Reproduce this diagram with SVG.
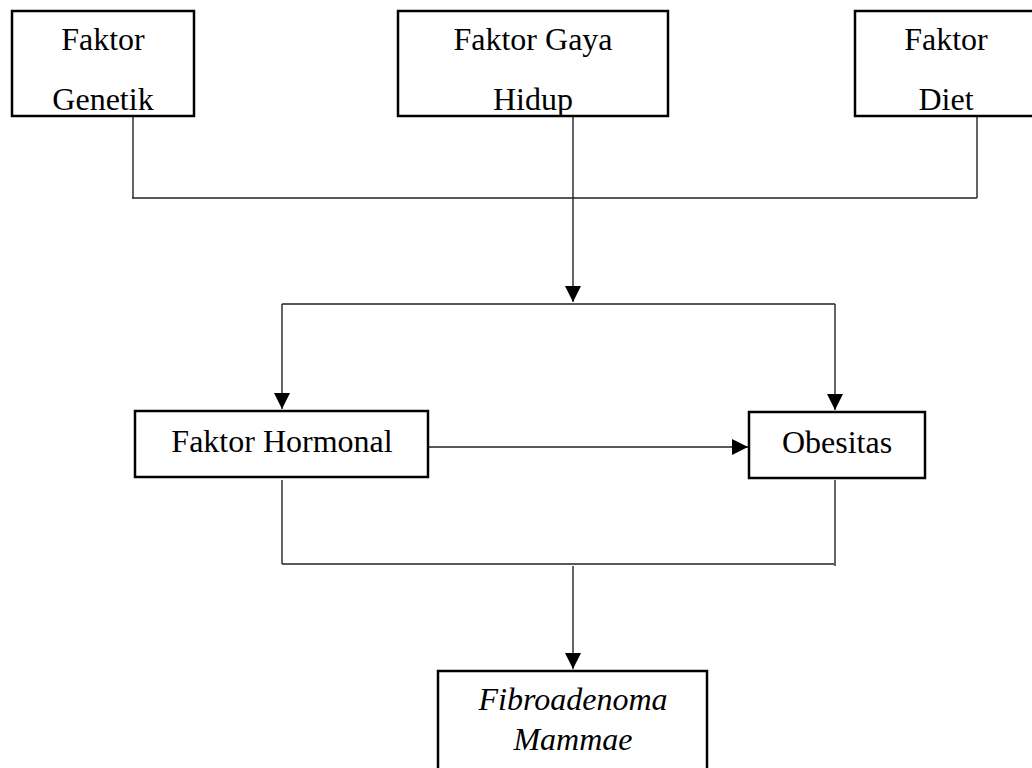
<svg xmlns="http://www.w3.org/2000/svg" width="1032" height="768" viewBox="0 0 1032 768">
<style>
.box{fill:#fff;stroke:#000;stroke-width:2.5}
.t{font-family:"Liberation Serif","Times New Roman",serif;font-size:32px;fill:#000;text-anchor:middle}
.i{font-style:italic}
.c{fill:none;stroke:#222;stroke-width:1.4}
</style>
<defs>
<marker id="ah" markerUnits="userSpaceOnUse" markerWidth="16" markerHeight="16" viewBox="0 0 16 16" refX="16" refY="8" orient="auto">
<path d="M0,0 L16,8 L0,16 Z" fill="#000"/>
</marker>
</defs>
<rect width="1032" height="768" fill="#fff"/>
<g id="connectors">
<path class="c" d="M133,116 V198"/>
<path class="c" d="M977,116 V198"/>
<path class="c" d="M132,198 H977"/>
<path class="c" d="M573,116 V302" marker-end="url(#ah)"/>
<path class="c" d="M282,304 H835"/>
<path class="c" d="M282,304 V409" marker-end="url(#ah)"/>
<path class="c" d="M835,304 V410" marker-end="url(#ah)"/>
<path class="c" d="M429,447 H748" marker-end="url(#ah)"/>
<path class="c" d="M282,480 V564"/>
<path class="c" d="M835,480 V566"/>
<path class="c" d="M282,564 H834"/>
<path class="c" d="M573,566 V669" marker-end="url(#ah)"/>
</g>
<g id="genetik">
<rect class="box" x="12" y="11" width="182" height="105"/>
<text class="t" x="103" y="50">Faktor</text>
<text class="t" x="103" y="110">Genetik</text>
</g>
<g id="gaya-hidup">
<rect class="box" x="398" y="11" width="270" height="105"/>
<text class="t" x="533" y="50">Faktor Gaya</text>
<text class="t" x="533" y="110">Hidup</text>
</g>
<g id="diet">
<rect class="box" x="855" y="11" width="183" height="105"/>
<text class="t" x="946" y="50">Faktor</text>
<text class="t" x="946" y="110">Diet</text>
</g>
<g id="hormonal">
<rect class="box" x="135" y="411" width="293" height="66"/>
<text class="t" x="282" y="452">Faktor Hormonal</text>
</g>
<g id="obesitas">
<rect class="box" x="749" y="412" width="176" height="66"/>
<text class="t" x="837" y="453">Obesitas</text>
</g>
<g id="fibroadenoma">
<rect class="box" x="438" y="671" width="269" height="110"/>
<text class="t i" x="573" y="710">Fibroadenoma</text>
<text class="t i" x="573" y="750">Mammae</text>
</g>
</svg>
